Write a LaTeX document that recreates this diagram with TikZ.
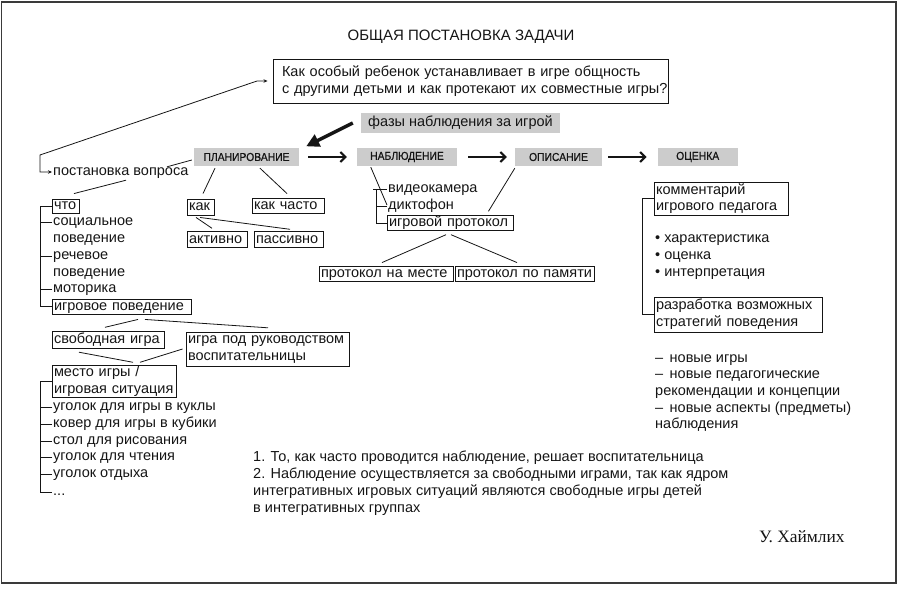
\documentclass[tikz,border=0pt]{standalone}
\usepackage{fontspec}
\setmainfont{Liberation Sans}
\newfontfamily\sigfamily{Liberation Serif}
\newfontfamily\condfamily[FakeStretch=0.9,FakeBold=0.6]{Liberation Sans}
\usetikzlibrary{arrows.meta,calc}
\definecolor{phasegray}{HTML}{CCCCCC}
\definecolor{ink}{HTML}{151515}
\definecolor{framegray}{HTML}{3A3A3A}
\newcommand\fbody{\fontsize{14.5}{16.7}\selectfont}
\newcommand\fphase{\condfamily\fontsize{11.5}{13}\selectfont}
\newcommand\fnote{\fontsize{14.5}{16.9}\selectfont}
\newcommand\ftitle{\fontsize{15}{18}\selectfont}
\newcommand\fsig{\sigfamily\fontsize{17.4}{19}\selectfont}
\tikzset{
  base/.style={inner sep=0pt, font=\fbody, text=ink},
  txt/.style={base, anchor=west, inner xsep=1pt, text height=10.5pt, text depth=3.5pt},
  bxone/.style={base, draw=ink, line width=0.9pt, inner xsep=2pt, align=left, text height=10.5pt, text depth=3.5pt},
  bxtwo/.style={base, draw=ink, line width=0.9pt, inner xsep=2pt, align=left},
  phase/.style={fill=phasegray, font=\fphase, text=ink, minimum height=18pt, inner sep=0pt},
  conn/.style={draw=ink, line width=0.8pt},
  harrow/.style={draw=ink, line width=2.4pt, -{Straight Barb[length=5pt,width=10pt,line width=2pt]}},
  bigarrow/.style={draw=ink, line width=3.5pt, -{Triangle[length=13pt,width=13pt]}},
  smallarrows/.style={draw=ink, line width=0.8pt, {Stealth[length=4pt,width=3.5pt]}-{Stealth[length=4pt,width=3.5pt]}},
}
\begin{document}
\begin{tikzpicture}[x=1pt,y=-1pt]
\useasboundingbox (0,0) rectangle (900,590);
\draw[framegray, line width=1.5pt] (1.5,2) rectangle (896,583);

% title and question
\node[base, font=\ftitle] (title) at (461,37) {ОБЩАЯ ПОСТАНОВКА ЗАДАЧИ};
\node[bxtwo, inner xsep=9pt, text width=377pt, minimum height=44pt] (q) at (470.5,81)
  {\mbox{Как особый ребенок устанавливает в игре общность}\\\mbox{с другими детьми и как протекают их совместные игры?}};
\node[base, fill=phasegray, minimum width=199pt, minimum height=20pt] (phases) at (460.5,123) {фазы наблюдения за игрой};

% phases
\node[phase, minimum width=105pt] (plan) at (246.5,157) {ПЛАНИРОВАНИЕ};
\node[phase, minimum width=100pt] (nabl) at (407,157) {НАБЛЮДЕНИЕ};
\node[phase, minimum width=87pt] (opis) at (558.5,157) {ОПИСАНИЕ};
\node[phase, minimum width=80pt] (ocen) at (697.7,157) {ОЦЕНКА};

\draw[harrow, shorten <=9pt, shorten >=10pt] (plan.east) -- (nabl.west);
\draw[harrow, shorten <=11pt, shorten >=8pt] (nabl.east) -- (opis.west);
\draw[harrow, shorten <=6pt, shorten >=11pt] (opis.east) -- (ocen.west);
\draw[bigarrow] ($(phases.west)+(-8,0)$) -- ($(plan.north east)+(7,-1.5)$);

% planning branch
\node[txt] (post) at (52,172) {постановка вопроса};
\coordinate (qa) at (40,172);
\coordinate (qb) at (40,155);
\coordinate (qc) at (257,81);
\draw[smallarrows, shorten >=5pt] (post.west) -- (qa) -- (qb) -- (qc) -- (q.west);
\draw[conn] ($(plan.west)+(-2,3)$) -- ($(post.north west)+(115,2)$);

\node[bxone, text width=23pt, minimum height=14pt] (cto) at (65.5,206) {\mbox{что}};
\draw[conn] ($(post.south west)+(74,1)$) -- ($(cto.north)+(8.5,-5)$);

\node[txt] (soc) at (52,222) {социальное};
\node[txt] (soc2) at (52,239) {поведение};
\node[txt] (rech) at (52,256) {речевое};
\node[txt] (rech2) at (52,273) {поведение};
\node[txt] (mot) at (52,289) {моторика};
\node[bxone, text width=135pt, minimum height=15pt] (igp) at (121.5,306.5) {\mbox{игровое поведение}};
\coordinate (brL) at (40,0);
\draw[conn] (cto.west) -- (cto.west -| brL) -- (igp.west -| brL) -- (igp.west);
\foreach \n in {soc,rech,mot} \draw[conn] (\n.west) -- (\n.west -| brL);

\node[bxone, text width=108pt, minimum height=16.5pt] (sv) at (108,340) {\mbox{свободная игра}};
\node[bxtwo, text width=159pt, minimum height=34.5pt] (rk) at (267.5,349.5) {\mbox{игра под руководством}\\\mbox{воспитательницы}};
\draw[conn] ($(igp.south)+(16.5,5)$) -- ($(sv.north)+(-3,-4)$);
\draw[conn] ($(igp.south)+(23.5,5)$) -- ($(rk.north)+(0.5,-4)$);

\node[bxtwo, text width=120pt, minimum height=31.5pt] (mesto) at (114,381.5) {\mbox{место игры /}\\\mbox{игровая ситуация}};
\draw[conn] ($(sv.south)+(-29,3.5)$) -- ($(mesto.north)+(19,-3)$);
\draw[conn] ($(rk.west)+(-3,-0.5)$) -- ($(mesto.north)+(26,-3)$);

\node[txt] (kukly) at (52,407) {уголок для игры в куклы};
\node[txt] (kubiki) at (52,424) {ковер для игры в кубики};
\node[txt] (stol) at (52,441) {стол для рисования};
\node[txt] (chten) at (52,457) {уголок для чтения};
\node[txt] (otdyh) at (52,474) {уголок отдыха};
\node[txt] (dots) at (52,492) {...};
\draw[conn] (mesto.west) -- (mesto.west -| brL) -- (dots.west -| brL) -- (dots.west);
\foreach \n in {kukly,kubiki,stol,chten,otdyh} \draw[conn] (\n.west) -- (\n.west -| brL);

% how
\node[bxone, text width=23pt, minimum height=16pt] (kak) at (200.5,207) {\mbox{как}};
\node[bxone, text width=68pt, minimum height=15pt] (kch) at (288,205.5) {\mbox{как часто}};
\node[bxone, text width=56pt, minimum height=15.5pt] (akt) at (217,239.5) {\mbox{активно}};
\node[bxone, text width=65pt, minimum height=15.5pt] (pas) at (288.5,239.5) {\mbox{пассивно}};
\draw[conn] ($(plan.south)+(-31.5,2)$) -- ($(kak.north)+(2.5,-5)$);
\draw[conn] ($(plan.south)+(13.5,2)$) -- ($(kch.north)+(-1,-4)$);
\draw[conn] ($(kak.south)+(-4.5,2)$) -- ($(akt.north)+(-5,-3)$);
\draw[conn] ($(kak.south)+(-0.5,2)$) -- ($(pas.north)+(1.5,-2)$);

% observation branch
\node[txt] (vid) at (387,189) {видеокамера};
\node[txt] (dik) at (387,206) {диктофон};
\node[bxone, text width=122pt, minimum height=14.5pt] (igpr) at (450,223) {\mbox{игровой протокол}};
\coordinate (brN) at (376,0);
\draw[conn] ($(vid.west)+(-14,0)$) -- (vid.west);
\draw[conn] (vid.west -| brN) -- (igpr.west -| brN) -- (igpr.west);
\draw[conn] (dik.west) -- (dik.west -| brN);
\draw[conn] ($(nabl.south west)+(14,1)$) -- ($(dik.west)+(0,-1)$);
\draw[conn] ($(opis.south west)+(0,2)$) -- ($(igpr.north east)+(-25,-4)$);
\node[bxone, text width=130pt, minimum height=15pt] (pnm) at (386,273.5) {\mbox{протокол на месте}};
\node[bxone, text width=135pt, minimum height=15pt] (ppp) at (524.5,273.5) {\mbox{протокол по памяти}};
\draw[conn] ($(igpr.south)+(-4,4)$) -- ($(pnm.north)+(-4,-3)$);
\draw[conn] ($(igpr.south)+(1,4)$) -- ($(ppp.north)+(-7.5,-3)$);

% evaluation branch
\node[bxtwo, text width=130pt, minimum height=33pt] (kom) at (721,198.5) {\mbox{комментарий}\\\mbox{игрового педагога}};
\node[txt] (b1) at (654,239) {• характеристика};
\node[txt] (b2) at (654,256) {• оценка};
\node[txt] (b3) at (654,273) {• интерпретация};
\node[bxtwo, text width=164pt, minimum height=35pt] (razr) at (738,314.5) {\mbox{разработка возможных}\\\mbox{стратегий поведения}};
\coordinate (brR) at (642,0);
\draw[conn] (kom.west) -- (kom.west -| brR) -- (razr.west -| brR) -- (razr.west);
\node[base, anchor=north west, align=left, inner xsep=1pt] (dash) at (654,354)
  {–\, новые игры\\–\, новые педагогические\\рекомендации и концепции\\–\, новые аспекты (предметы)\\наблюдения};

% notes
\node[base, font=\fnote, anchor=west, align=left, inner xsep=1pt] (notes) at (252,483.5)
  {1. То, как часто проводится наблюдение, решает воспитательница\\2. Наблюдение осуществляется за свободными играми, так как ядром\\интегративных игровых ситуаций являются свободные игры детей\\в интегративных группах};
\node[base, font=\fsig, anchor=west] (sig) at (759,537) {У. Хаймлих};
\end{tikzpicture}
\end{document}
